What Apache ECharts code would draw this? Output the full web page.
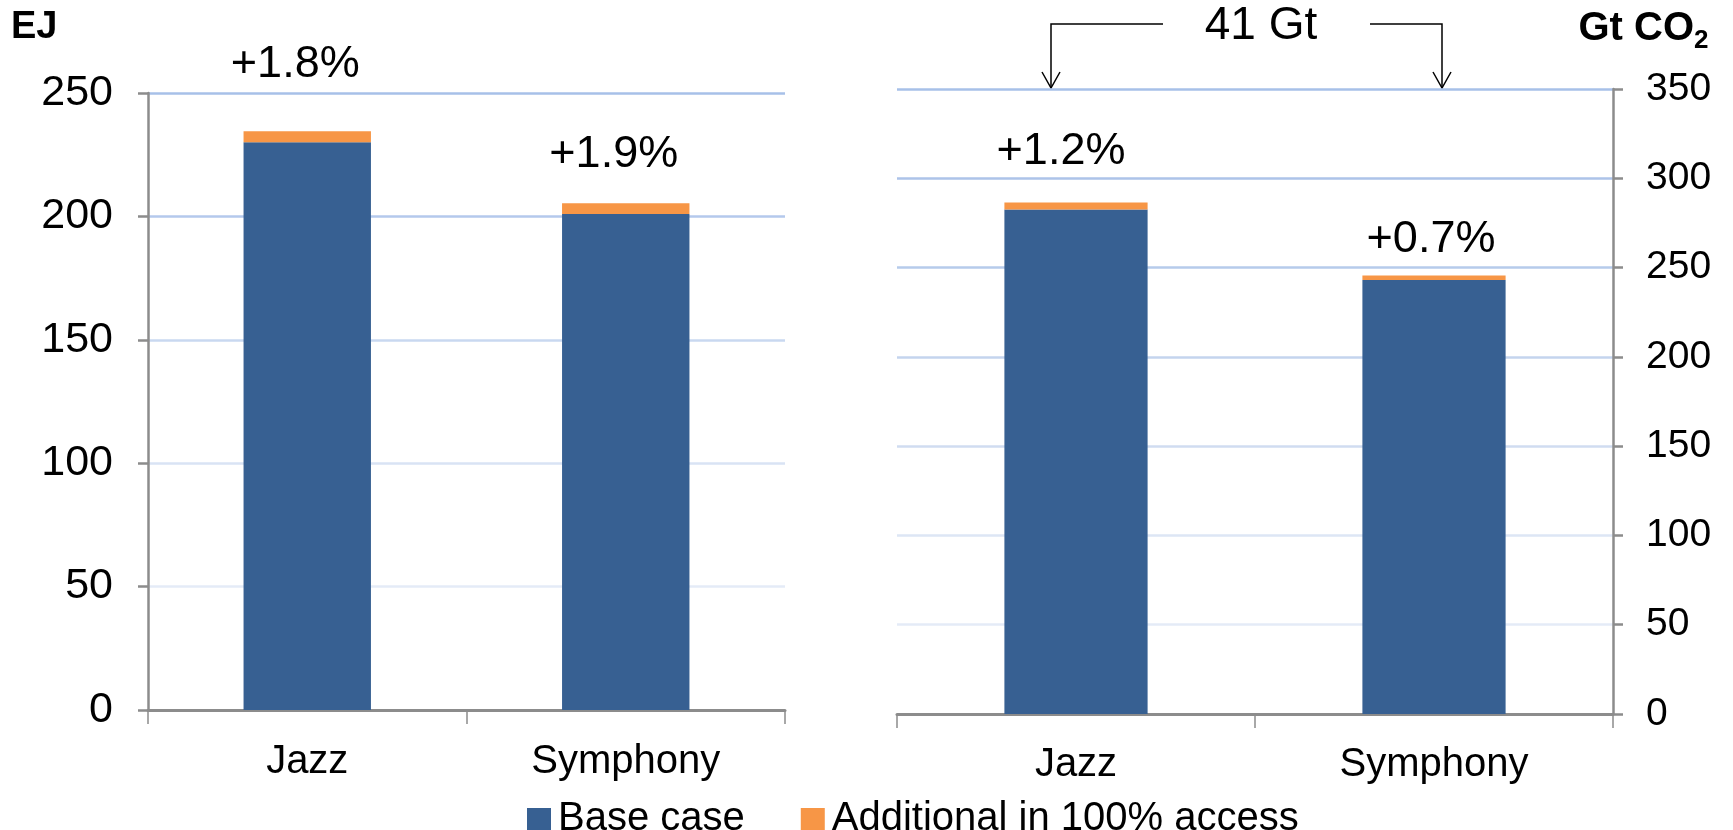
<!DOCTYPE html>
<html><head><meta charset="utf-8">
<script src="https://cdn.jsdelivr.net/npm/echarts@6/dist/echarts.min.js"></script>
<style>html,body{margin:0;padding:0;background:#fff}#c{width:1733px;height:830px}</style>
</head><body><div id="c"></div>
<script>
// ---- data ----
const categories = ['Jazz', 'Symphony'];
const seriesNames = ['Base case', 'Additional in 100% access'];
const energyBase = [230, 201];
const energyAdd = [4.5, 4.3];
const energyPct = ['+1.8%', '+1.9%'];
const co2Base = [282.5, 243];
const co2Add = [4, 2.5];
const co2Pct = ['+1.2%', '+0.7%'];
const energyAxis = { min: 0, max: 250, interval: 50 };
const co2Axis = { min: 0, max: 350, interval: 50 };
const energyUnit = 'EJ';
const co2Unit = ['Gt CO', '2'];
const totalNote = '41 Gt';

// ---- styles / layout ----
const FONT = '"Liberation Sans", Arial, sans-serif';
const BLUE = '#376092';
const ORANGE = '#F79646';
const AXIS_GRAY = '#8c8c8c';
const co2GridColors = ['#ffffff', '#e4ebf7', '#dde6f5', '#d0dcf1', '#c4d4ee', '#b6cbeb', '#adc3e9', '#a7c0e8'];
const energyGridColors = ['#ffffff', '#e4ebf7', '#d9e3f4', '#c9d8f0', '#b4c9ec', '#a7c0e8'];
const labelOffsetsEnergy = [[-12, -39], [-12, -21]];
const labelOffsetsCo2 = [[-15, -23], [-3, -9]];

function yAxisCfg(ax, gridIndex, pos, colors, fontSize, margin) {
  return {
    type: 'value', gridIndex: gridIndex, position: pos,
    min: ax.min, max: ax.max, interval: ax.interval,
    axisLine: { show: true, lineStyle: { color: AXIS_GRAY, width: 2.5 } },
    axisTick: { show: true, length: 10, lineStyle: { color: AXIS_GRAY, width: 2.5 } },
    axisLabel: { color: '#000', fontSize: fontSize, fontFamily: FONT, margin: margin },
    splitLine: { show: true, lineStyle: { color: colors, width: 2.5 } }
  };
}
function xAxisCfg(gridIndex, margin) {
  return {
    type: 'category', gridIndex: gridIndex, data: categories,
    axisLine: { show: true, lineStyle: { color: AXIS_GRAY, width: 3 } },
    axisTick: { show: true, length: 14, interval: 0, lineStyle: { color: AXIS_GRAY, width: 1.5 } },
    axisLabel: { color: '#000', fontSize: 40, fontFamily: FONT, margin: margin }
  };
}
function stack(base, add, pct, offsets, idx, stackName) {
  return [
    { name: seriesNames[0], type: 'bar', stack: stackName, xAxisIndex: idx, yAxisIndex: idx,
      barWidth: '40%', itemStyle: { color: BLUE }, data: base },
    { name: seriesNames[1], type: 'bar', stack: stackName, xAxisIndex: idx, yAxisIndex: idx,
      barWidth: '40%', itemStyle: { color: ORANGE },
      data: add.map((v, i) => ({
        value: v,
        label: { show: true, position: 'top', formatter: pct[i], offset: offsets[i],
                 color: '#000', fontSize: 45, fontFamily: FONT }
      })) }
  ];
}

const chart = echarts.init(document.getElementById('c'), null, { renderer: 'canvas' });
chart.setOption({
  animation: false,
  backgroundColor: '#fff',
  textStyle: { fontFamily: FONT },
  grid: [
    { left: 148, right: 948, top: 93, bottom: 120 },
    { left: 897, right: 120, top: 89, bottom: 116 }
  ],
  xAxis: [xAxisCfg(0, 32), xAxisCfg(1, 31)],
  yAxis: [
    yAxisCfg(energyAxis, 0, 'left', energyGridColors, 43, 35),
    yAxisCfg(co2Axis, 1, 'right', co2GridColors, 39, 33)
  ],
  legend: {
    data: seriesNames, left: 522, top: 794, itemWidth: 24, itemHeight: 22, itemGap: 56,
    icon: 'rect',
    textStyle: { color: '#000', fontSize: 40, fontFamily: FONT, padding: [0, 0, 0, 2] }
  },
  series: [].concat(
    stack(energyBase, energyAdd, energyPct, labelOffsetsEnergy, 0, 'e'),
    stack(co2Base, co2Add, co2Pct, labelOffsetsCo2, 1, 'c')
  ),
  graphic: [
    { type: 'text', x: 11, y: 28, style: { text: energyUnit, font: 'bold 38px ' + FONT, fill: '#000', verticalAlign: 'middle' } },
    { type: 'text', x: 1694, y: 29, style: { text: co2Unit[0], font: 'bold 40px ' + FONT, fill: '#000', align: 'right', verticalAlign: 'middle' } },
    { type: 'text', x: 1694, y: 41, style: { text: co2Unit[1], font: 'bold 26px ' + FONT, fill: '#000', align: 'left', verticalAlign: 'middle' } },
    { type: 'text', x: 1261, y: 26, style: { text: totalNote, font: '46px ' + FONT, fill: '#000', align: 'center', verticalAlign: 'middle' } },
    { type: 'polyline', shape: { points: [[1163, 24], [1051, 24], [1051, 88]] }, style: { stroke: '#000', lineWidth: 1.5, fill: null } },
    { type: 'polyline', shape: { points: [[1042, 72], [1051, 88], [1060, 72]] }, style: { stroke: '#000', lineWidth: 1.5, fill: null } },
    { type: 'polyline', shape: { points: [[1370, 24], [1442, 24], [1442, 88]] }, style: { stroke: '#000', lineWidth: 1.5, fill: null } },
    { type: 'polyline', shape: { points: [[1433, 72], [1442, 88], [1451, 72]] }, style: { stroke: '#000', lineWidth: 1.5, fill: null } }
  ]
});
</script>
</body></html>
